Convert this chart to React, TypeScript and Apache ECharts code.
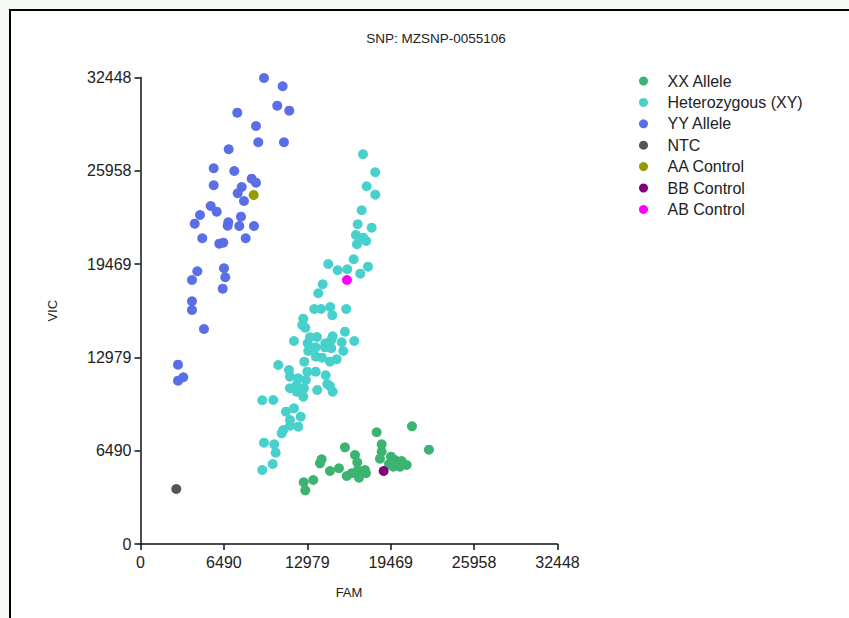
import React, { useEffect, useRef } from "react";
import * as echarts from "echarts";

const chartTitle = "SNP: MZSNP-0055106";
const axisMax = 32448;
const tickStep = 6489.6;

const xxAllele: number[][] = [
  [21123, 8187], [18376, 7770], [22445, 6560], [18765, 6935], [18765, 6420],
  [15910, 6726], [16688, 6191], [16867, 5683], [14097, 5892], [13965, 5613],
  [18633, 5933], [19489, 6073], [19800, 5843], [20321, 5773], [20710, 5495],
  [19668, 5377], [20189, 5377], [14743, 5078], [15443, 5266], [16042, 4730],
  [16431, 4918], [16999, 4612], [17466, 5147], [17544, 4918], [12697, 4292],
  [13444, 4452], [12821, 3735], [20034, 5634], [19333, 5565], [16921, 5147],
];

const heterozygous: number[][] = [
  [17311, 27108], [18267, 25855], [17598, 24882], [18267, 24297], [17209, 23212],
  [16898, 22238], [17987, 22002], [16766, 21494], [17334, 21306], [17567, 21077],
  [16844, 20847], [16587, 19804], [14611, 19477], [15342, 19039], [16089, 19108],
  [17700, 19289], [17100, 18802], [14175, 18065], [13833, 17439], [13522, 16347],
  [14043, 16347], [14766, 16486], [16011, 16347], [14922, 15908], [12666, 15672],
  [12588, 15234], [12821, 15046], [11942, 14121], [13187, 14378], [13732, 14399],
  [14953, 14448], [15910, 14768], [16634, 14121], [13008, 13961], [14377, 13961],
  [14844, 14190], [15653, 14030], [13055, 13425], [13631, 13682], [14354, 13682],
  [14844, 13613], [15778, 13425], [13654, 13029], [14121, 12959], [14743, 12681],
  [15264, 12848], [10721, 12451], [12744, 12681], [11553, 12103], [12977, 11985],
  [13631, 11985], [14409, 11735], [11631, 11637], [12277, 11526], [12876, 11408],
  [12152, 11060], [14533, 11130], [11631, 10831], [12720, 10831], [13755, 10712],
  [14743, 10990], [14953, 10594], [12666, 10246], [12152, 10594], [9476, 9996],
  [10332, 10017], [11320, 9203], [11942, 9439], [12464, 8855], [11631, 8625],
  [12277, 8159], [11110, 7930], [11631, 8229], [10985, 7700], [9608, 7046],
  [10410, 6935], [10519, 6351], [10285, 5565], [9476, 5147],
];

const yyAllele: number[][] = [
  [9608, 32415], [11063, 31838], [10643, 30488], [11577, 30140], [7531, 30001],
  [8986, 29076], [9165, 27942], [11164, 27942], [6862, 27455], [5695, 26134],
  [7298, 25946], [8651, 25410], [8986, 25132], [5695, 24951], [7873, 24833],
  [7562, 24395], [8052, 23859], [5462, 23511], [5928, 23115], [4629, 22885],
  [4217, 22280], [6831, 22377], [6784, 22141], [7819, 22767], [7687, 22120],
  [8830, 22120], [4808, 21265], [8185, 21265], [6131, 20889], [6442, 20958],
  [4419, 18969], [4007, 18364], [6496, 19178], [6597, 18552], [6395, 17759],
  [4007, 16882], [4007, 16277], [4940, 14955], [2918, 12472], [3330, 11596],
  [2918, 11359],
];

const ntc: number[][] = [[2785, 3826]];
const aaControl: number[][] = [[8807, 24276]];
const bbControl: number[][] = [[18921, 5078]];
const abControl: number[][] = [[16066, 18364]];

const seriesNames = [
  "XX Allele",
  "Heterozygous (XY)",
  "YY Allele",
  "NTC",
  "AA Control",
  "BB Control",
  "AB Control",
];
const seriesColors = ["#3cb371", "#48d1cc", "#5a6ee6", "#555555", "#999900", "#800080", "#ff00ff"];
const seriesData = [xxAllele, heterozygous, yyAllele, ntc, aaControl, bbControl, abControl];

const FONT = "Arial, 'Liberation Sans', sans-serif";

export default function App() {
  const ref = useRef<HTMLDivElement>(null);
  useEffect(() => {
    if (!ref.current) return;
    const chart = echarts.init(ref.current, undefined, { renderer: "svg" });
    const axisCommon = {
      type: "value" as const,
      min: 0,
      max: axisMax,
      interval: tickStep,
      nameLocation: "middle" as const,
      nameTextStyle: { fontSize: 13, color: "#222", fontFamily: FONT },
      axisLine: { show: true, lineStyle: { color: "#111", width: 1.5 } },
      axisTick: { show: true, length: 6, lineStyle: { color: "#111", width: 1.5 } },
      splitLine: { show: false },
      axisLabel: {
        fontSize: 16,
        color: "#222",
        fontFamily: FONT,
        formatter: (v: number) => String(Math.round(v)),
        showMaxLabel: true,
        showMinLabel: true,
      },
    };
    chart.setOption({
      animation: false,
      backgroundColor: "#f6faf5",
      graphic: [
        {
          type: "rect",
          shape: { x: 10, y: 10, width: 900, height: 700 },
          style: { fill: "#ffffff", stroke: "#000000", lineWidth: 2 },
          z: -10,
          silent: true,
        },
      ],
      title: {
        text: chartTitle,
        left: 431,
        top: 26,
        textAlign: "center",
        textStyle: { fontSize: 13.5, fontWeight: "normal", color: "#222", fontFamily: FONT },
      },
      legend: {
        orient: "vertical",
        left: 634,
        top: 68,
        itemWidth: 38,
        itemHeight: 9,
        itemGap: 5.4,
        icon: "circle",
        textStyle: { fontSize: 16, color: "#222", fontFamily: FONT },
        data: seriesNames,
      },
      grid: { left: 140.5, right: 291.5, top: 77.5, bottom: 74, containLabel: false },
      xAxis: {
        ...axisCommon,
        name: "FAM",
        nameGap: 42,
        axisLabel: { ...axisCommon.axisLabel, margin: 10 },
      },
      yAxis: {
        ...axisCommon,
        name: "VIC",
        nameGap: 82,
        nameRotate: 90,
        axisLabel: { ...axisCommon.axisLabel, margin: 9 },
      },
      series: seriesNames.map((name, i) => ({
        name,
        type: "scatter",
        data: seriesData[i],
        symbol: "circle",
        symbolSize: 10,
        clip: false,
        itemStyle: { color: seriesColors[i], opacity: 1 },
        z: i < 3 ? 2 : 3,
      })),
    });
    return () => chart.dispose();
  }, []);
  return (
    <div
      ref={ref}
      style={{ position: "fixed", left: 0, top: 0, width: 849, height: 618 }}
    />
  );
}
